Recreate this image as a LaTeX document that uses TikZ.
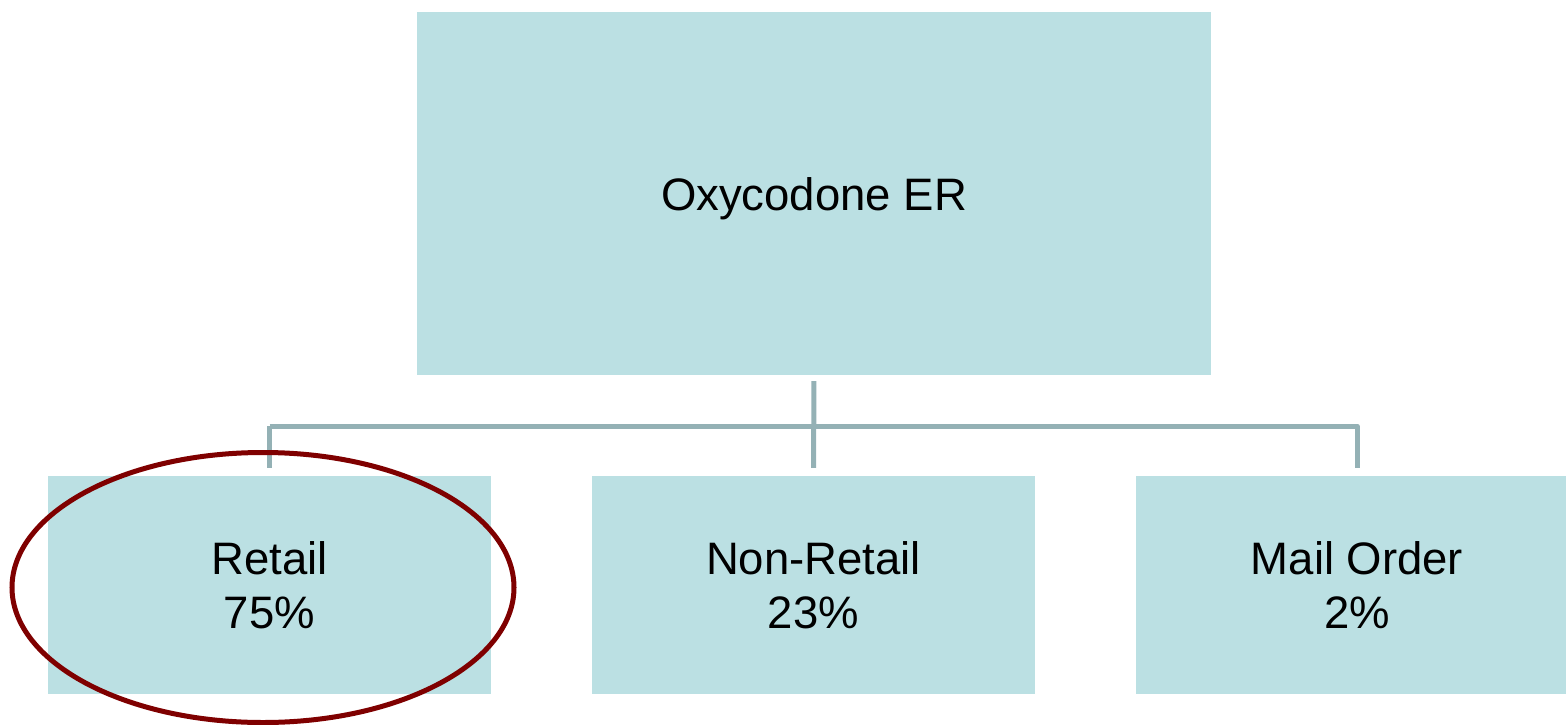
\documentclass[tikz,border=0pt]{standalone}
\usepackage{fontspec}
\setmainfont{Liberation Sans}
\usetikzlibrary{shapes.geometric}
\begin{document}
\begin{tikzpicture}[x=1pt,y=-1pt,
  box/.style={fill=boxfill, draw=none, minimum width=443pt, minimum height=218pt, inner sep=0pt, align=center, font=\fontsize{45.5}{53.5}\selectfont},
  conn/.style={draw=connc, line width=5pt, line join=round}]
\definecolor{boxfill}{HTML}{BBE0E3}
\definecolor{connc}{HTML}{94B1B5}
\definecolor{ringc}{HTML}{7F0000}
\useasboundingbox (0,0) rectangle (1566,725);
\node[box, minimum width=794pt, minimum height=363pt] (top) at (814,193.5) {\raisebox{-5pt}[\height][\depth]{Oxycodone ER}};
\node[box] (retail) at (269.5,585) {Retail\\75\%};
\node[box] (nonretail) at (813.5,585) {Non-Retail\\23\%};
\node[box] (mail) at (1357,585) {Mail Order\\2\%};
\coordinate (bus) at (0,426);
\draw[conn, shorten <=6pt, shorten >=8pt] (top.south) -- (nonretail.north);
\draw[conn, shorten >=8pt] (retail.north |- bus) -- (mail.north |- bus) -- (mail.north);
\draw[conn, shorten >=8pt] (retail.north |- bus) -- (retail.north);
\node[draw=ringc, line width=5pt, ellipse, minimum width=502pt, minimum height=270pt] (ring) at (263,587.5) {};
\end{tikzpicture}
\end{document}
